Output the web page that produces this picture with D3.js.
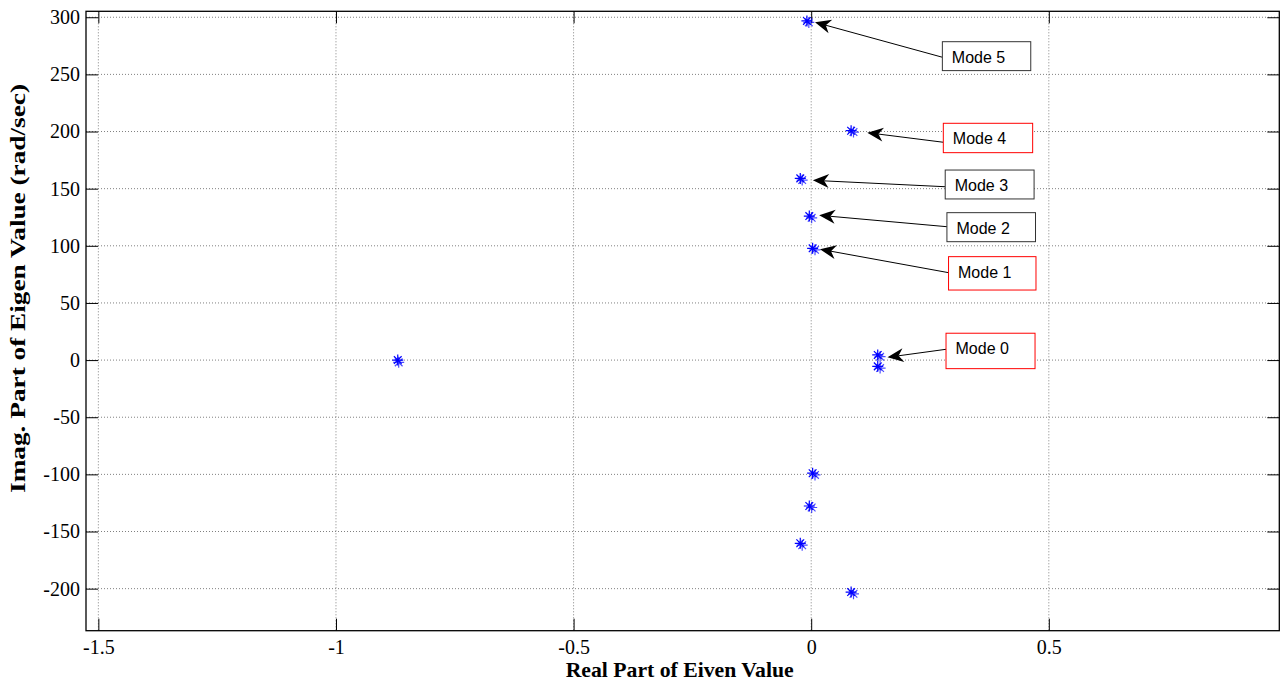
<!DOCTYPE html>
<html>
<head>
<meta charset="utf-8">
<script src="https://cdn.jsdelivr.net/npm/d3@7"></script>
<style>
  body { margin: 0; background: #fff; }
  svg { display: block; }
</style>
</head>
<body>
<svg id="chart"></svg>
<script>
const width = 1288;
const height = 686;

// eigen values (two overlapping runs)
const realPart = [-0.87, 0.003, -0.004, -0.023, 0.084, -0.009, 0.14, 0.14, 0.003, -0.004, -0.023, 0.084];
const imagPart = [0, 97.8, 126, 159, 200.7, 296.8, 4.5, -5.5, -99, -127.7, -160.3, -203];
const realPart2 = [-0.868, 0.008, 0.001, -0.019, 0.089, -0.005, 0.145, 0.145, 0.008, 0.001, -0.019, 0.089];
const imagPart2 = [-2, 96.5, 124.5, 157.5, 199.5, 295.5, 3, -7, -100.5, -129, -162, -204.5];

const xTicks = [-1.5, -1, -0.5, 0, 0.5];
const xTickLabels = ['-1.5', '-1', '-0.5', '0', '0.5'];
const yTicks = [300, 250, 200, 150, 100, 50, 0, -50, -100, -150, -200];

// annotations, in data units
const modeLabels = ['Mode 0', 'Mode 1', 'Mode 2', 'Mode 3', 'Mode 4', 'Mode 5'];
const modeTipRe = [0.1606, 0.0185, 0.0168, 0.0036, 0.118, 0.008];
const modeTipIm = [2.45, 97.0, 126.7, 157.3, 199.0, 295.6];
const modeBoxLeft = [0.2837, 0.289, 0.2856, 0.282, 0.278, 0.276];
const modeBoxRight = [0.471, 0.473, 0.472, 0.469, 0.466, 0.462];
const modeBoxTop = [23.5, 90.5, 129.0, 166.3, 207.2, 278.6];
const modeBoxBottom = [-7.5, 61.3, 103.6, 141.0, 181.5, 253.3];
const modeTailIm = [9.45, 76.5, 116.7, 151.7, 190.6, 265.0];
const modeBoxColor = ['#ff0000', '#ff0000', '#333', '#333', '#ff0000', '#333'];

const svg = d3.select('#chart')
  .attr('width', width)
  .attr('height', height);

const x = d3.scaleLinear().domain([-1.526, 0.985]).range([86, 1279.3]);
const y = d3.scaleLinear().domain([-236.8, 305.2]).range([630.7, 11.3]);
const [plotLeft, plotRight] = x.range();
const [plotBottom, plotTop] = y.range();

// grid
svg.append('g')
  .selectAll('line')
  .data(xTicks)
  .join('line')
  .attr('x1', d => x(d)).attr('x2', d => x(d))
  .attr('y1', plotTop).attr('y2', plotBottom)
  .attr('stroke', '#808080')
  .attr('stroke-dasharray', '1,2');

svg.append('g')
  .selectAll('line')
  .data(yTicks)
  .join('line')
  .attr('x1', plotLeft).attr('x2', plotRight)
  .attr('y1', d => y(d)).attr('y2', d => y(d))
  .attr('stroke', '#808080')
  .attr('stroke-dasharray', '1,2');

// axes, ticks inward on all four sides
const tickFont = '"Times New Roman", "Liberation Serif", serif';

const gLeft = svg.append('g')
  .attr('transform', `translate(${plotLeft},0)`)
  .call(d3.axisLeft(y).tickValues(yTicks).tickSize(-12).tickPadding(6)
    .tickFormat(d => String(d)));
const gBottom = svg.append('g')
  .attr('transform', `translate(0,${plotBottom})`)
  .call(d3.axisBottom(x).tickValues(xTicks).tickSize(-12).tickPadding(9)
    .tickFormat((d, i) => xTickLabels[i]));
const gRight = svg.append('g')
  .attr('transform', `translate(${plotRight},0)`)
  .call(d3.axisRight(y).tickValues(yTicks).tickSize(-12).tickFormat(''));
const gTop = svg.append('g')
  .attr('transform', `translate(0,${plotTop})`)
  .call(d3.axisTop(x).tickValues(xTicks).tickSize(-12).tickFormat(''));

[gLeft, gBottom, gRight, gTop].forEach(g => {
  g.select('.domain').remove();
  g.selectAll('.tick line').attr('stroke', '#000');
  g.selectAll('text')
    .attr('font-family', tickFont)
    .attr('font-size', 20)
    .attr('fill', '#000');
});

svg.append('rect')
  .attr('x', plotLeft).attr('y', plotTop)
  .attr('width', plotRight - plotLeft).attr('height', plotBottom - plotTop)
  .attr('fill', 'none')
  .attr('stroke', '#000')
  .attr('stroke-width', 1.3);

// axis titles
svg.append('text')
  .attr('x', (plotLeft + plotRight) / 2 - 3)
  .attr('y', 677)
  .attr('text-anchor', 'middle')
  .attr('font-family', tickFont)
  .attr('font-weight', 'bold')
  .attr('font-size', 21)
  .attr('textLength', 228)
  .attr('lengthAdjust', 'spacingAndGlyphs')
  .text('Real Part of Eiven Value');

svg.append('text')
  .attr('transform', 'translate(25,288.5) rotate(-90)')
  .attr('text-anchor', 'middle')
  .attr('font-family', tickFont)
  .attr('font-weight', 'bold')
  .attr('font-size', 21)
  .attr('textLength', 409)
  .attr('lengthAdjust', 'spacingAndGlyphs')
  .text('Imag. Part of Eigen Value (rad/sec)');

// asterisk markers
function star(g, xs, ys, opacity) {
  const r = 5.5;
  const pts = xs.map((d, i) => [x(d), y(ys[i])]);
  g.selectAll(null)
    .data(pts)
    .join('path')
    .attr('d', ([cx, cy]) => {
      const k = r * 0.7;
      return `M${cx - r},${cy}H${cx + r}M${cx},${cy - r}V${cy + r}` +
        `M${cx - k},${cy - k}L${cx + k},${cy + k}M${cx - k},${cy + k}L${cx + k},${cy - k}`;
    })
    .attr('fill', 'none')
    .attr('stroke', '#0000ff')
    .attr('stroke-width', 1.2)
    .attr('opacity', opacity);
}

const markers = svg.append('g');
star(markers, realPart2, imagPart2, 0.7);
star(markers, realPart, imagPart, 1);

// annotations
const notes = svg.append('g');
modeLabels.forEach((label, i) => {
  const bx = x(modeBoxLeft[i]);
  const by = y(modeBoxTop[i]);
  const bw = x(modeBoxRight[i]) - bx;
  const bh = y(modeBoxBottom[i]) - by;
  const tx = x(modeTipRe[i]);
  const ty = y(modeTipIm[i]);
  const sy = y(modeTailIm[i]);

  const ang = Math.atan2(ty - sy, tx - bx);
  const L = 16, W = 14, notch = 0.7;
  const c = Math.cos(ang), s = Math.sin(ang);
  const pt = (a, b) => [tx - a * c - b * s, ty - a * s + b * c];
  const n = pt(L * notch, 0);

  notes.append('line')
    .attr('x1', bx).attr('y1', sy)
    .attr('x2', n[0]).attr('y2', n[1])
    .attr('stroke', '#000')
    .attr('stroke-width', 1);

  notes.append('path')
    .attr('d', 'M' + [pt(0, 0), pt(L, -W / 2), n, pt(L, W / 2)].map(p => p.join(',')).join('L') + 'Z')
    .attr('fill', '#000');

  notes.append('rect')
    .attr('x', bx).attr('y', by)
    .attr('width', bw).attr('height', bh)
    .attr('fill', '#fff')
    .attr('stroke', modeBoxColor[i])
    .attr('stroke-width', 1);

  notes.append('text')
    .attr('x', bx + 9.5)
    .attr('y', by + 21)
    .attr('font-family', 'Arial, "Liberation Sans", sans-serif')
    .attr('font-size', 16)
    .attr('fill', '#000')
    .text(label);
});
</script>
</body>
</html>
